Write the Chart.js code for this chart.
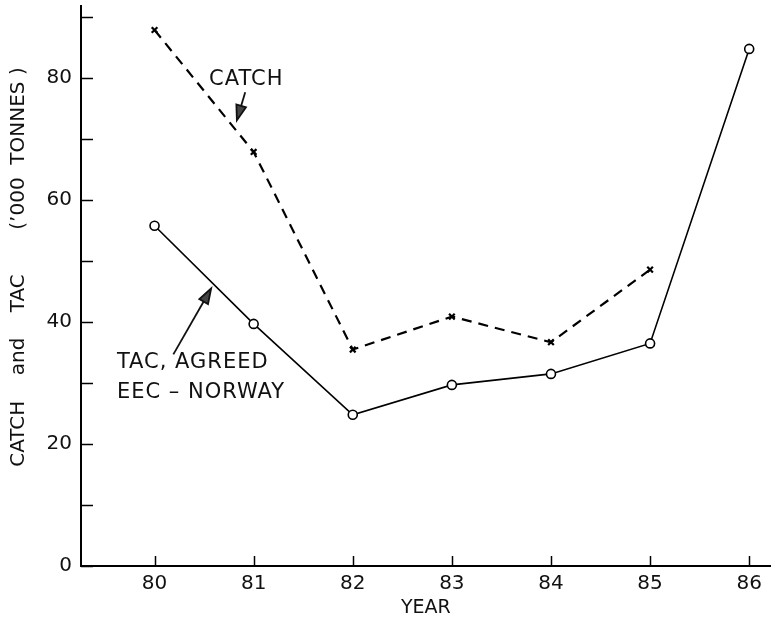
<!DOCTYPE html>
<html>
<head>
<meta charset="utf-8">
<script src="https://cdn.jsdelivr.net/npm/chart.js@4.4.1/dist/chart.umd.min.js"></script>
<style>
  html, body { margin: 0; padding: 0; background: #fff; }
  #wrap { width: 777px; height: 619px; }
</style>
</head>
<body>
<div id="wrap"><canvas id="c"></canvas></div>
<script>
/* catch vs TAC, '000 tonnes */
const years    = [80, 81, 82, 83, 84, 85, 86];
const catchVal = [87.9, 67.9, 35.5, 40.9, 36.7, 48.6];
const tacVal   = [55.8, 39.7, 24.8, 29.7, 31.5, 36.5, 84.8];
const yTicks   = [0, 10, 20, 30, 40, 50, 60, 70, 80, 90];
const yLabeled = [0, 20, 40, 60, 80];

const FONT = '"DejaVu Sans", sans-serif';

// labels + arrows, placed in data units
const notes = [
  { text: 'CATCH', x: 80.925, y: 79.7, align: 'center' },
  { text: 'TAC, AGREED', x: 79.62, y: 33.3, align: 'left' },
  { text: 'EEC – NORWAY', x: 79.62, y: 28.4, align: 'left' },
];
const arrows = [
  { from: [80.915, 77.7], to: [80.831, 73.1] },
  { from: [80.19, 34.7],  to: [80.571, 45.5] },
];

// ticks pointing into the plot, and the annotations
const paperPlugin = {
  id: 'paper',
  afterDraw(chart) {
    const { ctx, scales: { x, y } } = chart;
    ctx.save();
    ctx.strokeStyle = '#000';
    ctx.lineWidth = 1.5;
    yTicks.forEach(v => {
      const py = Math.round(y.getPixelForValue(v)) + 0.5;
      ctx.beginPath();
      ctx.moveTo(x.left, py);
      ctx.lineTo(x.left + 12, py);
      ctx.stroke();
    });
    years.forEach(v => {
      const px = Math.round(x.getPixelForValue(v)) + 0.5;
      ctx.beginPath();
      ctx.moveTo(px, y.bottom);
      ctx.lineTo(px, y.bottom - 10);
      ctx.stroke();
    });

    ctx.fillStyle = '#111';
    ctx.font = '21px ' + FONT;
    ctx.letterSpacing = '1px';
    ctx.textBaseline = 'middle';
    notes.forEach(n => {
      ctx.textAlign = n.align;
      ctx.fillText(n.text, x.getPixelForValue(n.x), y.getPixelForValue(n.y));
    });

    arrows.forEach(a => {
      const x0 = x.getPixelForValue(a.from[0]), y0 = y.getPixelForValue(a.from[1]);
      const x1 = x.getPixelForValue(a.to[0]),   y1 = y.getPixelForValue(a.to[1]);
      const ang = Math.atan2(y1 - y0, x1 - x0);
      const hl = 15, hw = 5;
      const bx = x1 - hl * Math.cos(ang), by = y1 - hl * Math.sin(ang);
      ctx.lineWidth = 1.8;
      ctx.strokeStyle = '#111';
      ctx.beginPath();
      ctx.moveTo(x0, y0);
      ctx.lineTo(bx, by);
      ctx.stroke();
      ctx.fillStyle = '#444';
      ctx.beginPath();
      ctx.moveTo(x1, y1);
      ctx.lineTo(bx + hw * Math.sin(ang), by - hw * Math.cos(ang));
      ctx.lineTo(bx - hw * Math.sin(ang), by + hw * Math.cos(ang));
      ctx.closePath();
      ctx.fill();
      ctx.stroke();
    });
    ctx.restore();
  }
};

new Chart(document.getElementById('c'), {
  type: 'line',
  data: {
    datasets: [
      {
        label: 'CATCH',
        data: catchVal.map((v, i) => ({ x: years[i], y: v })),
        borderColor: '#000',
        borderWidth: 2.2,
        borderDash: [10, 7],
        pointStyle: 'crossRot',
        pointRadius: 4,
        pointBorderWidth: 2.2,
        pointBorderColor: '#000',
        tension: 0,
      },
      {
        label: 'TAC, AGREED EEC - NORWAY',
        data: tacVal.map((v, i) => ({ x: years[i], y: v })),
        borderColor: '#000',
        borderWidth: 1.6,
        pointStyle: 'circle',
        pointRadius: 4.5,
        pointBorderWidth: 1.6,
        pointBackgroundColor: '#fff',
        pointBorderColor: '#000',
        tension: 0,
      },
    ],
  },
  options: {
    responsive: true,
    maintainAspectRatio: false,
    animation: false,
    layout: { padding: { top: 4, right: 0, left: 0, bottom: 0 } },
    plugins: { legend: { display: false }, tooltip: { enabled: false } },
    scales: {
      x: {
        type: 'linear',
        min: 79.258,
        max: 86.218,
        afterBuildTicks: s => { s.ticks = years.map(v => ({ value: v })); },
        afterFit: s => { s.height = 53; s.paddingLeft = 0; s.paddingRight = 0; },
        grid: { display: false, drawTicks: false },
        border: { display: true, color: '#000', width: 2 },
        ticks: { color: '#111', font: { family: FONT, size: 20 }, padding: 6, callback: v => String(v) },
        title: { display: true, text: 'YEAR', color: '#111', font: { family: FONT, size: 19 }, padding: { top: 0, bottom: 0 } },
      },
      y: {
        min: 0,
        max: 91.8,
        afterBuildTicks: s => { s.ticks = yTicks.map(v => ({ value: v })); },
        afterFit: s => { s.width = 81; s.paddingTop = 0; s.paddingBottom = 0; },
        grid: { display: false, drawTicks: false },
        border: { display: true, color: '#000', width: 2 },
        ticks: {
          color: '#111', font: { family: FONT, size: 20 }, padding: 9,
          callback: v => yLabeled.includes(v) ? String(v) : '',
        },
        title: {
          display: true,
          text: '      CATCH    and    TAC       (\u2019000  TONNES )',
          color: '#111', font: { family: FONT, size: 20 }, padding: { top: 7, bottom: 0 },
        },
      },
    },
  },
  plugins: [paperPlugin],
});
</script>
</body>
</html>
